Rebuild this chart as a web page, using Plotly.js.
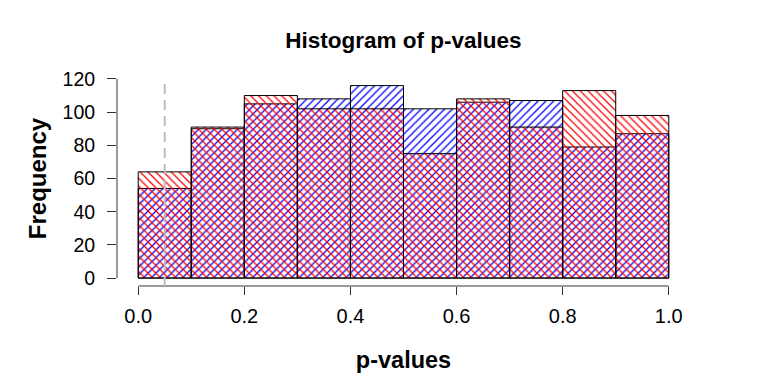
<!DOCTYPE html>
<html>
<head>
<meta charset="utf-8">
<script src="https://cdn.plot.ly/plotly-3.0.1.min.js"></script>
<style>html,body{margin:0;padding:0;background:#fff;}</style>
</head>
<body>
<div id="chart" style="width:768px;height:384px;"></div>
<script>
// ---- data ----
const breaks = [0.0, 0.1, 0.2, 0.3, 0.4, 0.5, 0.6, 0.7, 0.8, 0.9, 1.0];
const blueCounts = [54, 90, 105, 108, 116, 102, 106, 107, 79, 87];
const redCounts  = [64, 91, 110, 102, 102, 75, 108, 91, 113, 98];
const xTickVals = [0.0, 0.2, 0.4, 0.6, 0.8, 1.0];
const xTickText = ["0.0", "0.2", "0.4", "0.6", "0.8", "1.0"];
const yTickVals = [0, 20, 40, 60, 80, 100, 120];
const yTickText = ["0", "20", "40", "60", "80", "100", "120"];
const cutoff = 0.05;
const chartTitle = "Histogram of p-values";
const xTitle = "p-values";
const yTitle = "Frequency";

// ---- derived ----
const mids = breaks.slice(0, -1).map((b, i) => (b + breaks[i + 1]) / 2);
const widths = breaks.slice(0, -1).map((b, i) => breaks[i + 1] - b);
const xSpan = breaks[breaks.length - 1] - breaks[0];
const xRange = [breaks[0] - 0.04 * xSpan, breaks[breaks.length - 1] + 0.04 * xSpan];
const yTop = yTickVals[yTickVals.length - 1];
const yRange = [-0.04 * yTop, yTop * 1.04];

const font = "Liberation Sans, Arial, Helvetica, sans-serif";

function histTrace(counts, color, shape) {
  return {
    type: "bar",
    x: mids,
    y: counts,
    width: widths,
    marker: {
      color: color,
      pattern: { shape: shape, fgcolor: color, bgcolor: "rgba(0,0,0,0)", size: 5.5, solidity: 0.22, fillmode: "replace" },
      line: { color: "#000000", width: 1 }
    },
    hoverinfo: "skip"
  };
}

const data = [
  histTrace(blueCounts, "#0000ff", "/"),
  histTrace(redCounts, "#ff0000", "\\")
];

const axisColor = "#333333";
const layout = {
  width: 768, height: 384,
  margin: { l: 117, r: 78, t: 71, b: 98, pad: 0 },
  paper_bgcolor: "#ffffff", plot_bgcolor: "#ffffff",
  showlegend: false,
  barmode: "overlay",
  font: { family: font, color: "#000000" },
  title: {
    text: "<b>" + chartTitle + "</b>",
    font: { family: font, size: 22.5, color: "#000000" },
    x: 0.5, xref: "paper", xanchor: "center",
    y: 1 - 40.5 / 384, yref: "container", yanchor: "middle"
  },
  xaxis: {
    range: xRange, showgrid: false, zeroline: false, showline: false,
    tickmode: "array", tickvals: xTickVals, ticktext: xTickText,
    ticks: "outside", ticklen: 8, tickwidth: 1, tickcolor: axisColor,
    ticklabelstandoff: 4,
    tickfont: { family: font, size: 20, color: "#000000" },
    title: { text: "<b>" + xTitle + "</b>", font: { family: font, size: 23.5, color: "#000000" }, standoff: 25 }
  },
  yaxis: {
    range: yRange, showgrid: false, zeroline: false, showline: false,
    tickmode: "array", tickvals: yTickVals, ticktext: yTickText,
    ticks: "outside", ticklen: 9, tickwidth: 1, tickcolor: axisColor,
    tickangle: 0,
    ticklabelstandoff: 8,
    tickfont: { family: font, size: 19.5, color: "#000000" },
    title: { text: "<b>" + yTitle + "</b>", font: { family: font, size: 24, color: "#000000" }, standoff: 9 }
  },
  shapes: [
    { type: "line", xref: "x", yref: "paper", x0: xTickVals[0], x1: xTickVals[xTickVals.length - 1], y0: 0, y1: 0,
      line: { color: axisColor, width: 1 } },
    { type: "line", xref: "paper", yref: "y", x0: 0, x1: 0, y0: yTickVals[0], y1: yTop,
      line: { color: axisColor, width: 1 } },
    { type: "line", xref: "x", yref: "y", x0: cutoff, x1: cutoff, y0: yRange[0], y1: yTop * 0.975,
      line: { color: "#bebebe", width: 2, dash: "10px,6px" }, layer: "above" }
  ]
};

Plotly.newPlot("chart", data, layout, { displayModeBar: false, staticPlot: true });
</script>
</body>
</html>
